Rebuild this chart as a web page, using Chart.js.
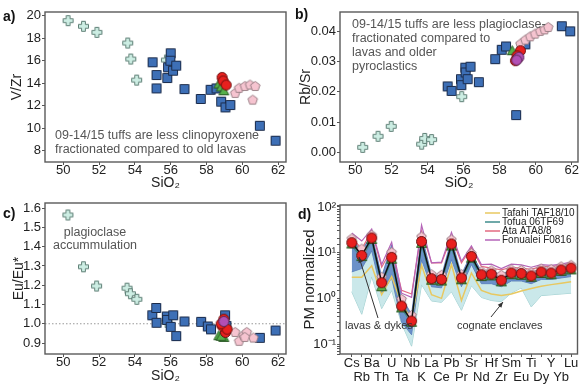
<!DOCTYPE html>
<html>
<head>
<meta charset="utf-8">
<script src="https://cdn.jsdelivr.net/npm/chart.js@4/dist/chart.umd.min.js"></script>
<style>
  body { margin: 0; background: #fff; width: 584px; height: 385px; position: relative; overflow: hidden; }
  canvas { position: absolute; }
</style>
</head>
<body>
<canvas id="ca" width="292" height="192" style="left:0;top:0"></canvas>
<canvas id="cb" width="292" height="192" style="left:292px;top:0"></canvas>
<canvas id="cc" width="292" height="193" style="left:0;top:192px"></canvas>
<canvas id="cd" width="292" height="193" style="left:292px;top:192px"></canvas>
<script>
// ---- panel a: V/Zr vs SiO2
const aCrossSi = [50.27, 51.13, 51.88, 53.6, 53.77, 54.1, 55.76];
const aCrossVZr = [19.56, 19.06, 18.52, 17.57, 16.15, 14.28, 16.06];
const aLavaSi = [54.99, 55.21, 55.21, 55.85, 55.81, 56.0, 55.98, 56.13, 56.31, 56.77, 57.68, 58.23, 58.56, 58.82, 59.06, 59.33, 60.98, 61.86];
const aLavaVZr = [15.86, 14.73, 13.54, 15.41, 14.46, 16.66, 16.0, 15.11, 15.56, 13.48, 12.6, 13.42, 13.54, 12.36, 11.85, 12.06, 10.22, 8.89];
const aPinkSi = [59.6, 59.82, 60.15, 60.43, 60.72, 60.58];
const aPinkVZr = [13.1, 13.55, 13.72, 13.84, 13.72, 12.5];
const aGreenSi = [58.69, 58.82, 58.97];
const aGreenVZr = [13.93, 13.66, 13.33];
const aRedSi = [58.87, 58.93, 59.1];
const aRedVZr = [14.52, 14.2, 13.84];

// ---- panel b: Rb/Sr vs SiO2
const bCrossSi = [50.41, 51.26, 51.99, 53.68, 53.85, 54.23, 55.9];
const bCrossRbSr = [0.00165, 0.0053, 0.0086, 0.0027, 0.0046, 0.0042, 0.0184];
const bLavaSi = [55.12, 55.34, 55.86, 55.88, 56.1, 56.12, 56.23, 56.39, 56.85, 57.76, 58.12, 58.36, 58.92, 59.43, 61.45, 61.92];
const bLavaRbSr = [0.0218, 0.0203, 0.0242, 0.0222, 0.028, 0.0264, 0.0242, 0.0283, 0.0232, 0.0308, 0.0339, 0.035, 0.0123, 0.0357, 0.0417, 0.04];
const bPinkSi = [59.16, 59.43, 59.7, 59.97, 60.25, 60.5, 60.7];
const bPinkRbSr = [0.0358, 0.0371, 0.0382, 0.0391, 0.04, 0.0405, 0.0413];
const bGreenSi = [58.7];
const bGreenRbSr = [0.0336];
const bPurpleSi = [59.07, 58.95];
const bPurpleRbSr = [0.0314, 0.0305];
const bRedSi = [59.16, 58.97, 58.88, 59.0];
const bRedRbSr = [0.0336, 0.0319, 0.0303, 0.031];

// ---- panel c: Eu/Eu* vs SiO2
const cCrossSi = [50.26, 51.13, 51.86, 53.56, 53.75, 54.11, 55.8];
const cCrossEu = [1.565, 1.296, 1.196, 1.185, 1.156, 1.127, 1.007];
const cLavaSi = [54.97, 55.19, 55.21, 55.78, 55.8, 56.0, 56.14, 56.31, 56.77, 57.7, 58.07, 58.25, 59.04, 59.11, 60.98, 61.86];
const cLavaEu = [1.044, 1.082, 1.005, 1.038, 1.02, 0.984, 1.044, 0.936, 1.012, 1.01, 0.986, 0.971, 1.044, 0.989, 0.927, 0.965];
const cPinkSi = [59.6, 59.82, 60.07, 60.25, 60.62, 60.14];
const cPinkEu = [0.955, 0.909, 0.938, 0.955, 0.926, 0.929];
const cGreenSi = [58.69, 58.97, 58.82];
const cGreenEu = [0.938, 0.929, 0.935];
const cRedSi = [58.97, 59.06, 58.87, 59.15, 58.82];
const cRedEu = [1.024, 0.955, 0.989, 0.972, 1.0];
const cPurpleSi = [58.97];
const cPurpleEu = [1.012];
const euRef = [1.0, 1.0];

// ---- panel d: primitive mantle normalized spider diagram
const elements = ['Cs', 'Rb', 'Ba', 'Th', 'U', 'Ta', 'Nb', 'K', 'La', 'Ce', 'Pb', 'Pr', 'Sr', 'Nd', 'Hf', 'Zr', 'Sm', 'Eu', 'Ti', 'Dy', 'Y', 'Yb', 'Lu'];
const pmRed = [16.6, 8.7, 21, 2.2, 7.9, 0.68, 0.32, 17.6, 2.7, 2.6, 15.5, 2.8, 8.3, 3.3, 3.4, 2.5, 3.6, 3.5, 3.1, 3.8, 3.6, 4.2, 4.6];
const pmPink = [20, 12, 24, 2.9, 10, 0.95, 0.42, 22, 3.3, 3.2, 19, 3.3, 9.5, 3.8, 4.0, 3.2, 4.2, 4.1, 3.6, 4.4, 4.3, 4.9, 5.3];
const pmGreen = [15.5, 8.2, 19.5, 1.8, 7.2, 0.62, 0.3, 16, 2.5, 2.4, 14, 2.55, 7.6, 3.0, 3.1, 2.3, 3.3, 3.2, 2.9, 3.5, 3.3, 3.9, 4.2];
const lavaLow = [3.8, 4.5, 11, 1.3, 2.8, 0.3, 0.16, 7, 1.8, 1.7, 7, 1.8, 5.5, 2.1, 2.1, 1.8, 2.4, 2.4, 2.1, 2.6, 2.6, 2.8, 3.0];
const lavaHigh = [20, 11, 26, 3.0, 15, 1.05, 0.45, 25, 3.3, 3.1, 20, 3.3, 9.8, 3.9, 4.0, 3.3, 4.3, 4.1, 3.7, 4.4, 4.3, 4.9, 5.4];
const enclLow = [1.4, 0.45, 3.0, 0.6, 1.5, 0.28, 0.09, 2.0, 0.88, 0.82, 1.4, 0.55, 1.9, 1.05, 0.9, 0.85, 1.3, 1.7, 0.65, 1.15, 1.2, 1.25, 1.3];
const enclHigh = [14, 7, 17, 2.0, 7, 0.6, 0.28, 15, 2.5, 2.3, 13, 2.4, 7.5, 2.8, 2.8, 2.3, 3.0, 3.0, 2.7, 3.2, 3.1, 3.4, 3.7];
const tafahi = [2.9, 2.9, 5.2, 1.2, 3.0, 0.75, 0.35, 5.3, 1.2, 1.0, 5.5, 0.9, 3.6, 1.5, 1.25, 1.15, 1.25, 1.45, 1.65, 1.85, 2.0, 2.15, 2.3];
const tofua = [14.5, 7.8, 18.5, 1.95, 7.0, 0.6, 0.29, 15.5, 2.4, 2.3, 13.5, 2.45, 7.3, 2.9, 3.0, 2.2, 3.2, 3.1, 2.75, 3.35, 3.2, 3.7, 4.05];
const ata = [22, 12, 30, 4.8, 12, 1.5, 1.25, 30, 6, 6, 22, 6, 13, 5, 4.6, 4.2, 4.8, 4.6, 4.3, 5, 5, 5.3, 5.8];
const fonualei = [27, 18, 33, 5.5, 17, 1.3, 1.05, 40, 6, 6.2, 28, 6.5, 14, 5.5, 5.6, 4.5, 5.6, 5.4, 4.8, 5.5, 5.3, 5.6, 6.2];

const FONT = '"Liberation Sans", Arial, sans-serif';
Chart.defaults.font.family = FONT;
Chart.defaults.color = '#222';
Chart.defaults.animation = false;

const pts = (xs, ys) => xs.map((x, i) => ({ x, y: ys[i] }));
const idx = ys => ys.map((y, i) => ({ x: i, y }));

// little marker images, Chart.js has no filled plus or pentagon
function mark(shape, size, fill, stroke) {
  const s = size + 3, c = document.createElement('canvas');
  c.width = c.height = s;
  const g = c.getContext('2d'), r = size / 2, m = s / 2;
  g.beginPath();
  if (shape === 'circle') g.arc(m, m, r, 0, Math.PI * 2);
  else if (shape === 'square') g.rect(m - r, m - r, size, size);
  else if (shape === 'tri') { g.moveTo(m, m - r); g.lineTo(m + r, m + r * 0.8); g.lineTo(m - r, m + r * 0.8); g.closePath(); }
  else if (shape === 'pent') {
    for (let i = 0; i < 5; i++) {
      const t = -Math.PI / 2 + i * 2 * Math.PI / 5;
      g.lineTo(m + r * Math.cos(t), m + r * Math.sin(t));
    }
    g.closePath();
  } else if (shape === 'plus') {
    const w = r * 0.38;
    [[-w, -r], [w, -r], [w, -w], [r, -w], [r, w], [w, w], [w, r], [-w, r], [-w, w], [-r, w], [-r, -w], [-w, -w]]
      .forEach(([x, y]) => g.lineTo(m + x, m + y));
    g.closePath();
  }
  g.fillStyle = fill; g.fill();
  g.lineWidth = 1; g.strokeStyle = stroke; g.stroke();
  return c;
}

const M = {
  plus: mark('plus', 10, '#cdeee4', '#5f7f76'),
  square: mark('square', 9, '#3d6fb6', '#1b2b4a'),
  pent: mark('pent', 10, '#f6c4d0', '#9a7f86'),
  green: mark('tri', 10, '#56b04a', '#2a5a25'),
  red: mark('circle', 10, '#e8201e', '#6a1010'),
  purple: mark('circle', 10, '#b24fb5', '#5a2a5a')
};

const sc = (xs, ys, style, order) => ({ data: pts(xs, ys), pointStyle: style, pointRadius: 5, order });

// frame, panel letters, notes, arrows, legend
function deco(spec) {
  return {
    id: 'deco',
    afterDraw(chart) {
      const ctx = chart.ctx, a = chart.chartArea;
      ctx.save();
      ctx.strokeStyle = '#5a5a5a';
      ctx.lineWidth = 1.4;
      ctx.strokeRect(a.left, a.top, a.right - a.left, a.bottom - a.top);
      ctx.textBaseline = 'middle';
      for (const t of spec.texts || []) {
        ctx.font = t.font || '12.5px ' + FONT;
        ctx.fillStyle = t.color || '#555';
        ctx.textAlign = t.align || 'left';
        ctx.fillText(t.text, t.x, t.y);
      }
      ctx.strokeStyle = '#333';
      ctx.fillStyle = '#333';
      ctx.lineWidth = 1;
      for (const [x1, y1, x2, y2] of spec.arrows || []) {
        ctx.beginPath(); ctx.moveTo(x1, y1); ctx.lineTo(x2, y2); ctx.stroke();
        const t = Math.atan2(y2 - y1, x2 - x1);
        ctx.beginPath();
        ctx.moveTo(x2, y2);
        ctx.lineTo(x2 - 6 * Math.cos(t - 0.4), y2 - 6 * Math.sin(t - 0.4));
        ctx.lineTo(x2 - 6 * Math.cos(t + 0.4), y2 - 6 * Math.sin(t + 0.4));
        ctx.closePath(); ctx.fill();
      }
      (spec.legend || []).forEach((l, i) => {
        const y = spec.legendY + i * 9;
        ctx.strokeStyle = l.color; ctx.lineWidth = 1.5;
        ctx.beginPath(); ctx.moveTo(spec.legendX, y); ctx.lineTo(spec.legendX + 15, y); ctx.stroke();
        ctx.font = '10px ' + FONT; ctx.fillStyle = '#222'; ctx.textAlign = 'left';
        ctx.fillText(l.text, spec.legendX + 17, y);
      });
      ctx.restore();
    }
  };
}

const gridOpts = { drawOnChartArea: false, tickLength: 3, color: '#555' };

function siScales(c) {
  return {
    x: {
      type: 'linear', min: c.xmin, max: c.xmax,
      ticks: { stepSize: 2, includeBounds: false, maxRotation: 0, padding: -1, font: { size: 13, lineHeight: 1 } },
      grid: gridOpts, border: { display: false },
      title: { display: true, text: 'SiO₂', font: { size: 14 }, padding: 0 },
      afterFit: s => { s.height = c.xh; s.paddingLeft = 0; s.paddingRight = 0; }
    },
    y: {
      type: 'linear', min: c.ymin, max: c.ymax,
      ticks: { stepSize: c.step, includeBounds: false, padding: 1, font: { size: 13 }, callback: v => v.toFixed(c.dec) },
      grid: gridOpts, border: { display: false },
      title: { display: true, text: c.title, font: { size: 14 }, padding: { top: c.tp, bottom: 0 } },
      afterFit: s => { s.width = c.yw; s.paddingTop = 0; s.paddingBottom = 0; }
    }
  };
}

const common = pad => ({
  responsive: false, events: [],
  layout: { padding: pad },
  plugins: { legend: { display: false }, tooltip: { enabled: false } }
});

new Chart(document.getElementById('ca'), {
  type: 'scatter',
  data: { datasets: [
    sc(aCrossSi, aCrossVZr, M.plus, 6),
    sc(aLavaSi, aLavaVZr, M.square, 5),
    sc(aPinkSi, aPinkVZr, M.pent, 4),
    sc(aGreenSi, aGreenVZr, M.green, 3),
    sc(aRedSi, aRedVZr, M.red, 1)
  ] },
  options: Object.assign(common({ left: 0, top: 12, right: 2, bottom: 0 }), {
    scales: siScales({ xmin: 48.98, xmax: 62.44, ymin: 7.0, ymax: 20.33, step: 2, dec: 0, title: 'V/Zr', tp: 9, yw: 45, xh: 30 })
  }),
  plugins: [deco({ texts: [
    { text: 'a)', x: 3, y: 17, font: 'bold 14px ' + FONT, color: '#111' },
    { text: '09-14/15 tuffs are less clinopyroxene', x: 55, y: 136 },
    { text: 'fractionated compared to old lavas', x: 55, y: 150 }
  ] })]
});

new Chart(document.getElementById('cb'), {
  type: 'scatter',
  data: { datasets: [
    sc(bCrossSi, bCrossRbSr, M.plus, 6),
    sc(bLavaSi, bLavaRbSr, M.square, 5),
    sc(bPinkSi, bPinkRbSr, M.pent, 4),
    sc(bGreenSi, bGreenRbSr, M.green, 3),
    sc(bRedSi, bRedRbSr, M.red, 2),
    sc(bPurpleSi, bPurpleRbSr, M.purple, 1)
  ] },
  options: Object.assign(common({ left: 0, top: 12, right: 2, bottom: 0 }), {
    scales: siScales({ xmin: 49.15, xmax: 62.35, ymin: -0.0032, ymax: 0.0464, step: 0.01, dec: 2, title: 'Rb/Sr', tp: 6, yw: 48, xh: 30 })
  }),
  plugins: [deco({ texts: [
    { text: 'b)', x: 3, y: 15, font: 'bold 14px ' + FONT, color: '#111' },
    { text: '09-14/15 tuffs are less plagioclase-', x: 60, y: 25 },
    { text: 'fractionated compared to', x: 60, y: 39 },
    { text: 'lavas and older', x: 60, y: 53 },
    { text: 'pyroclastics', x: 60, y: 67 }
  ] })]
});

const cScales = siScales({ xmin: 48.98, xmax: 62.44, ymin: 0.843, ymax: 1.627, step: 0.1, dec: 1, title: 'Eu/Eu*', tp: 11, yw: 45, xh: 31 });
new Chart(document.getElementById('cc'), {
  type: 'scatter',
  data: { datasets: [
    { data: pts([48.98, 62.44], euRef), showLine: true, pointRadius: 0, borderColor: '#999', borderWidth: 1, borderDash: [1.5, 2], order: 9 },
    sc(cCrossSi, cCrossEu, M.plus, 6),
    sc(cLavaSi, cLavaEu, M.square, 5),
    sc(cPinkSi, cPinkEu, M.pent, 4),
    sc(cGreenSi, cGreenEu, M.green, 3),
    sc(cRedSi, cRedEu, M.red, 2),
    sc(cPurpleSi, cPurpleEu, M.purple, 1)
  ] },
  options: Object.assign(common({ left: 0, top: 11, right: 2, bottom: 0 }), { scales: cScales }),
  plugins: [deco({ texts: [
    { text: 'c)', x: 3, y: 22, font: 'bold 14px ' + FONT, color: '#111' },
    { text: 'plagioclase', x: 95, y: 41, align: 'center' },
    { text: 'accummulation', x: 95, y: 54, align: 'center' }
  ] })]
});

const sup = { '-1': '⁻¹', '0': '⁰', '1': '¹', '2': '²' };
const band = (ys, color, fill, order) => ({ data: idx(ys), pointRadius: 0, borderColor: color, borderWidth: 0.8, fill, backgroundColor: fill ? undefined : 'transparent', order });
const ln = (ys, color, w, order) => ({ data: idx(ys), pointRadius: 0, borderColor: color, borderWidth: w, fill: false, order });

new Chart(document.getElementById('cd'), {
  type: 'line',
  data: { datasets: [
    band(enclLow, '#8cc4c4', false, 20),
    Object.assign(band(enclHigh, '#8cc4c4', '-1', 19), { backgroundColor: 'rgba(196,230,232,0.9)' }),
    band(lavaLow, '#4d72b0', false, 18),
    Object.assign(band(lavaHigh, '#4d72b0', '-1', 17), { backgroundColor: 'rgba(92,130,196,0.85)' }),
    ln(tafahi, '#e8c860', 1.5, 16),
    ln(ata, '#e36a80', 1.2, 15),
    ln(fonualei, '#b565b8', 1.2, 14),
    ln(tofua, '#3f8c8c', 1.5, 13),
    { data: idx(pmPink), showLine: false, pointStyle: M.pent, pointRadius: 5, order: 12 },
    { data: idx(pmGreen), showLine: false, pointStyle: M.green, pointRadius: 5, order: 11 },
    { data: idx(pmRed), borderColor: '#111', borderWidth: 1.5, pointStyle: M.red, pointRadius: 5, fill: false, order: 10 }
  ] },
  options: Object.assign(common({ left: 0, top: 13, right: 2, bottom: 0 }), {
    scales: {
      x: {
        type: 'linear', min: -1.18, max: 22.64,
        afterBuildTicks: s => { s.ticks = elements.map((e, i) => ({ value: i })); },
        ticks: {
          autoSkip: false, maxRotation: 0, padding: 0, font: { size: 13, lineHeight: 1.05 },
          callback: (v, i) => (i % 2 === 0 ? [elements[i], ''] : ['', elements[i]])
        },
        grid: gridOpts, border: { display: false },
        afterFit: s => { s.height = 31; s.paddingLeft = 0; s.paddingRight = 0; }
      },
      y: {
        type: 'logarithmic', min: 0.0607, max: 110.5,
        ticks: {
          autoSkip: false, padding: 1, font: { size: 13 },
          callback: v => { const e = Math.log10(v), r = Math.round(e); return Math.abs(e - r) < 1e-9 ? '10' + sup[r] : ''; }
        },
        grid: gridOpts, border: { display: false },
        title: { display: true, text: 'PM normalized', font: { size: 15 }, padding: { top: 9, bottom: 0 } },
        afterFit: s => { s.width = 48; s.paddingTop = 0; s.paddingBottom = 0; }
      }
    }
  }),
  plugins: [deco({
    texts: [
      { text: 'd)', x: 6, y: 23, font: 'bold 14px ' + FONT, color: '#111' },
      { text: 'lavas & dykes', x: 53, y: 134, font: '11px ' + FONT, color: '#333' },
      { text: 'cognate enclaves', x: 165, y: 134, font: '11px ' + FONT, color: '#333' }
    ],
    arrows: [[86, 126, 67, 65], [199, 125, 211, 110]],
    legendX: 193, legendY: 21,
    legend: [
      { text: 'Tafahi TAF18/10', color: '#e8c860' },
      { text: 'Tofua 06TF69', color: '#3f8c8c' },
      { text: 'Ata ATA8/8', color: '#e36a80' },
      { text: 'Fonualei F0816', color: '#b565b8' }
    ]
  })]
});
</script>
</body>
</html>
